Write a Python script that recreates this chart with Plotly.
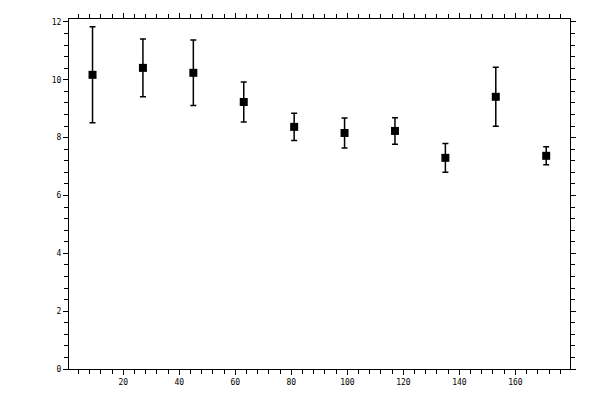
import plotly.graph_objects as go

# bin centres and mean values with their error bars
bin_x = [9, 27, 45, 63, 81, 99, 117, 135, 153, 171]
mean_y = [10.17, 10.41, 10.24, 9.23, 8.37, 8.16, 8.23, 7.30, 9.41, 7.37]
err_y = [1.66, 1.0, 1.13, 0.69, 0.47, 0.52, 0.46, 0.50, 1.02, 0.31]

tickfont = dict(family="DejaVu Sans Mono", size=8, color="black")

fig = go.Figure()
fig.add_trace(go.Scatter(
    x=bin_x, y=mean_y,
    mode='markers',
    marker=dict(symbol='square', size=8, color='black'),
    error_y=dict(type='data', array=err_y, visible=True,
                 color='black', thickness=1.5, width=3),
    showlegend=False
))

# main axes: outside ticks (major + minor), mirrored on top/right
xax = dict(range=[0.6, 179.5], showgrid=False, zeroline=False, automargin=False,
           showline=True, linecolor='black', linewidth=1, mirror='ticks',
           ticks='outside', ticklen=5, tickwidth=1, tickcolor='black',
           dtick=20, tick0=0, tickfont=tickfont,
           minor=dict(dtick=4, tick0=0, ticks='outside', ticklen=4,
                      tickwidth=1, tickcolor='black', showgrid=False))
yax = dict(range=[0, 12.1], showgrid=False, zeroline=False, automargin=False,
           showline=True, linecolor='black', linewidth=1, mirror='ticks',
           ticks='outside', ticklen=5, tickwidth=1, tickcolor='black',
           dtick=2, tick0=0, tickfont=tickfont,
           minor=dict(dtick=0.4, tick0=0, ticks='outside', ticklen=4,
                      tickwidth=1, tickcolor='black', showgrid=False))

# overlay axes giving the inside half of the major ticks (crossing ticks)
xax2 = dict(range=[0.6, 179.5], overlaying='x', showgrid=False, automargin=False,
            zeroline=False, showline=False, mirror='ticks',
            ticks='inside', ticklen=5, tickwidth=1, tickcolor='black',
            dtick=20, tick0=0, showticklabels=False)
yax2 = dict(range=[0, 12.1], overlaying='y', showgrid=False, automargin=False,
            zeroline=False, showline=False, mirror='ticks',
            ticks='inside', ticklen=5, tickwidth=1, tickcolor='black',
            dtick=2, tick0=0, showticklabels=False)

# page body has an 8px margin, so the figure is 8px smaller on each axis
fig.update_layout(
    width=592, height=392,
    margin=dict(l=61, r=30, t=11, b=31),
    plot_bgcolor='white', paper_bgcolor='white',
    xaxis=xax, yaxis=yax, xaxis2=xax2, yaxis2=yax2,
)

fig.write_html("out.html")
